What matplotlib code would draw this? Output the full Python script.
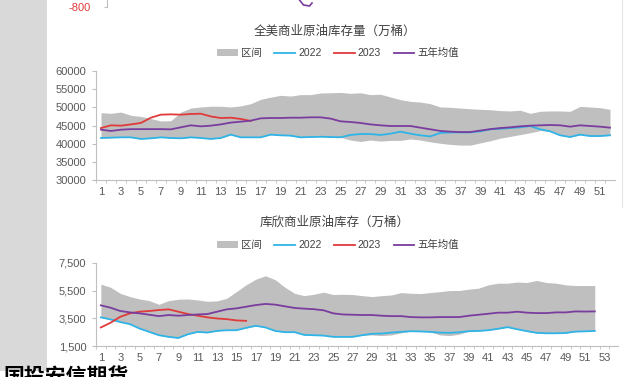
import matplotlib
matplotlib.use("Agg")
import matplotlib.pyplot as plt
from matplotlib.patches import Patch, Rectangle
from matplotlib.lines import Line2D
import numpy as np

plt.rcParams['font.family'] = ['Liberation Sans', 'Noto Sans CJK SC', 'DejaVu Sans']

# ---- 全美商业原油库存量（万桶） ----
us_weeks = list(range(1, 53))
us_hi = [48530, 48350, 48700, 47800, 47500, 46900, 46250, 46300, 48700, 49800,
         50100, 50300, 50300, 50100, 50400, 51000, 52200, 52800, 53300, 53100,
         53500, 53500, 53950, 54000, 54100, 53850, 54000, 53500, 53600, 52850,
         52100, 51650, 51450, 51000, 50100, 50000, 49800, 49600, 49450, 49350,
         49100, 49000, 49200, 48350, 48900, 49000, 49000, 48900, 50250, 50100,
         49900, 49450]
us_lo = [41560, 41650, 41740, 41740, 41300, 41470, 41740, 41560, 41470, 41740,
         41560, 41300, 41560, 42480, 41740, 41740, 41740, 42480, 42300, 42200,
         41740, 41830, 41900, 41830, 41750, 41000, 40600, 41000, 40700, 40900,
         40900, 41300, 41000, 40500, 40100, 39800, 39600, 39600, 40200, 40800,
         41500, 42000, 42500, 43000, 43600, 43400, 42300, 41830, 42480, 42100,
         42100, 42300]
us_2022 = [41560, 41650, 41740, 41740, 41300, 41470, 41740, 41560, 41470, 41740,
           41560, 41300, 41560, 42480, 41740, 41740, 41740, 42480, 42300, 42200,
           41740, 41830, 41900, 41830, 41750, 42400, 42650, 42650, 42400, 42750,
           43300, 42750, 42300, 42000, 42950, 43100, 43100, 43100, 43400, 43950,
           44100, 44300, 44500, 44850, 43950, 43400, 42300, 41830, 42480, 42100,
           42100, 42300]
us_2023 = [44300, 45050, 44950, 45300, 45700, 47150, 47980, 48070, 47980, 48170,
           48250, 47500, 47060, 47150, 46800, 46250]
us_avg = [43850, 43500, 43850, 44000, 44000, 44000, 44000, 43940, 44500, 45050,
          44770, 44950, 45300, 45800, 46050, 46330, 46970, 47060, 47060, 47150,
          47150, 47250, 47250, 46900, 46150, 45960, 45700, 45300, 45050, 44860,
          44860, 44860, 44400, 43950, 43500, 43300, 43200, 43200, 43600, 44000,
          44300, 44500, 44770, 44950, 45050, 45140, 45050, 44680, 45050, 44860,
          44680, 44400]

# ---- 库欣商业原油库存（万桶） ----
cu_weeks = list(range(1, 53))
cu_hi = [5970, 5750, 5310, 5070, 4900, 4780, 4510, 4780, 4880, 4900,
         4830, 4730, 4760, 4950, 5430, 5920, 6330, 6580, 6290, 5750,
         5310, 5140, 5240, 5390, 5220, 5240, 5220, 5140, 5070, 5140,
         5190, 5360, 5310, 5290, 5360, 5430, 5510, 5510, 5610, 5680,
         5920, 6040, 6040, 6120, 6090, 6240, 6090, 6040, 5920, 5870,
         5870, 5870]
cu_2022 = [3570, 3420, 3230, 3080, 2760, 2520, 2280, 2160, 2080, 2350,
           2520, 2470, 2590, 2640, 2640, 2810, 2960, 2840, 2590, 2500,
           2500, 2300, 2280, 2250, 2160, 2160, 2160, 2280, 2380, 2400,
           2470, 2520, 2570, 2550, 2520, 2470, 2450, 2490, 2570, 2590,
           2640, 2740, 2860, 2710, 2570, 2450, 2420, 2420, 2440, 2540,
           2560, 2590]
cu_lo = [3570, 3420, 3230, 3080, 2760, 2520, 2280, 2160, 2080, 2350,
         2520, 2470, 2590, 2640, 2640, 2810, 2960, 2840, 2590, 2500,
         2500, 2300, 2280, 2250, 2160, 2160, 2160, 2280, 2300, 2250,
         2300, 2450, 2570, 2550, 2520, 2300, 2250, 2350, 2570, 2590,
         2640, 2740, 2860, 2710, 2570, 2450, 2420, 2420, 2440, 2540,
         2560, 2590]
cu_2023 = [2840, 3180, 3610, 3860, 3980, 4030, 4100, 4150, 3980, 3810,
           3690, 3570, 3490, 3440, 3350, 3320]
cu_avg = [4440, 4270, 4030, 3930, 3860, 3760, 3660, 3740, 3690, 3740,
          3780, 3810, 3980, 4150, 4220, 4340, 4460, 4540, 4490, 4370,
          4250, 4200, 4160, 4080, 3860, 3780, 3760, 3740, 3740, 3690,
          3660, 3660, 3590, 3570, 3570, 3590, 3590, 3590, 3690, 3760,
          3830, 3910, 3910, 3980, 3910, 3880, 3880, 3930, 3930, 4000,
          3990, 4000]

# cut-off chart above (only its bottom edge shows)
top_x = [0.385, 0.393, 0.405, 0.410]
top_purple = [-660, -760, -780, -720]

BAND = '#bfbfbf'
C22 = '#2eb4e6'
C23 = '#e03a3a'
CAVG = '#7a3d9e'
TXT = '#595959'
SPINE = '#bfbfbf'

W, H = 625, 377
fig = plt.figure(figsize=(6.25, 3.77), dpi=100)


def fr(x0, y0, x1, y1):
    return [x0 / W, 1 - y1 / H, (x1 - x0) / W, (y1 - y0) / H]


# page decorations: grey side strip, right rule, logo cut by the page edge
fig.add_artist(Rectangle((0, 1 - 371 / H), 47 / W, 371 / H,
                         transform=fig.transFigure, color='#d9d9d9', lw=0))
fig.add_artist(Line2D([622 / W, 622 / W], [1, 1 - 207 / H],
                      transform=fig.transFigure, color='#e4e4e4', lw=0.8))
fig.text(3 / W, 1 - 367 / H, '国投安信期货', fontsize=15, fontweight='bold',
         color='black', va='top', ha='left',
         family=['Noto Sans CJK SC', 'DejaVu Sans'])

# partial chart at the very top
axt = fig.add_axes(fr(107, -93, 607, 7))
axt.plot(top_x, top_purple, color=CAVG, lw=1.2)
axt.set_xlim(0, 1)
axt.set_ylim(-800, 1200)
axt.set_yticks([-800])
axt.set_yticklabels(['-800'], color=C23, fontsize=8)
axt.tick_params(axis='y', length=2, color=SPINE, pad=10)
axt.set_xticks([])
for s in ['top', 'right', 'bottom']:
    axt.spines[s].set_visible(False)
axt.spines['left'].set_color(SPINE)


def panel(pos, weeks, lo, hi, s22, s23, avg, ylim, yticks, ylabels, xmax, nlab,
          title, title_y, leg_y):
    ax = fig.add_axes(pos)
    ax.fill_between(weeks, lo, hi, color=BAND, lw=0, label='区间')
    ax.plot(weeks, s22, color=C22, lw=1.3, label='2022')
    ax.plot(weeks[:len(s23)], s23, color=C23, lw=1.3, label='2023')
    ax.plot(weeks, avg, color=CAVG, lw=1.3, label='五年均值')
    ax.set_xlim(0.5, xmax)
    ax.set_ylim(*ylim)
    ax.set_yticks(yticks)
    ax.set_yticklabels(ylabels, fontsize=8, color=TXT)
    labs = list(range(1, nlab + 1, 2))
    ax.set_xticks(labs)
    ax.set_xticklabels([str(v) for v in labs], fontsize=8, color=TXT)
    ax.set_xticks(np.arange(0.5, xmax, 1), minor=True)
    ax.tick_params(axis='x', which='major', length=0, pad=5)
    ax.tick_params(axis='x', which='minor', length=2.5, color=SPINE)
    ax.tick_params(axis='y', length=3, color=SPINE, pad=4)
    for s in ['top', 'right']:
        ax.spines[s].set_visible(False)
    for s in ['left', 'bottom']:
        ax.spines[s].set_color(SPINE)
        ax.spines[s].set_linewidth(0.8)
    fig.text(335 / W, 1 - title_y / H, title, fontsize=9, color='#404040',
             ha='center', va='center',
             family=['Noto Sans CJK SC', 'DejaVu Sans'])
    handles = [Patch(color=BAND, lw=0),
               Line2D([], [], color=C22, lw=1.3),
               Line2D([], [], color=C23, lw=1.3),
               Line2D([], [], color=CAVG, lw=1.3)]
    fig.legend(handles, ['区间', '2022', '2023', '五年均值'], ncol=4,
               loc='center', bbox_to_anchor=(338 / W, 1 - leg_y / H),
               frameon=False, handlelength=2.0,
               handleheight=0.6, handletextpad=0.3, columnspacing=1.2,
               labelcolor='#404040',
               prop={'family': ['Liberation Sans', 'Noto Sans CJK SC'],
                     'size': 7.5})
    return ax


panel(fr(96, 71, 615, 180), us_weeks, us_lo, us_hi, us_2022, us_2023, us_avg,
      (30000, 60000), list(range(30000, 60001, 5000)),
      [str(v) for v in range(30000, 60001, 5000)], 52.5, 52,
      '全美商业原油库存量（万桶）', 31, 53)

panel(fr(96, 263, 618, 346), cu_weeks, cu_lo, cu_hi, cu_2022, cu_2023, cu_avg,
      (1500, 7500), [1500, 3500, 5500, 7500],
      ['1,500', '3,500', '5,500', '7,500'], 54.4, 53,
      '库欣商业原油库存（万桶）', 222, 245)

fig.savefig('out.png', dpi=100)
